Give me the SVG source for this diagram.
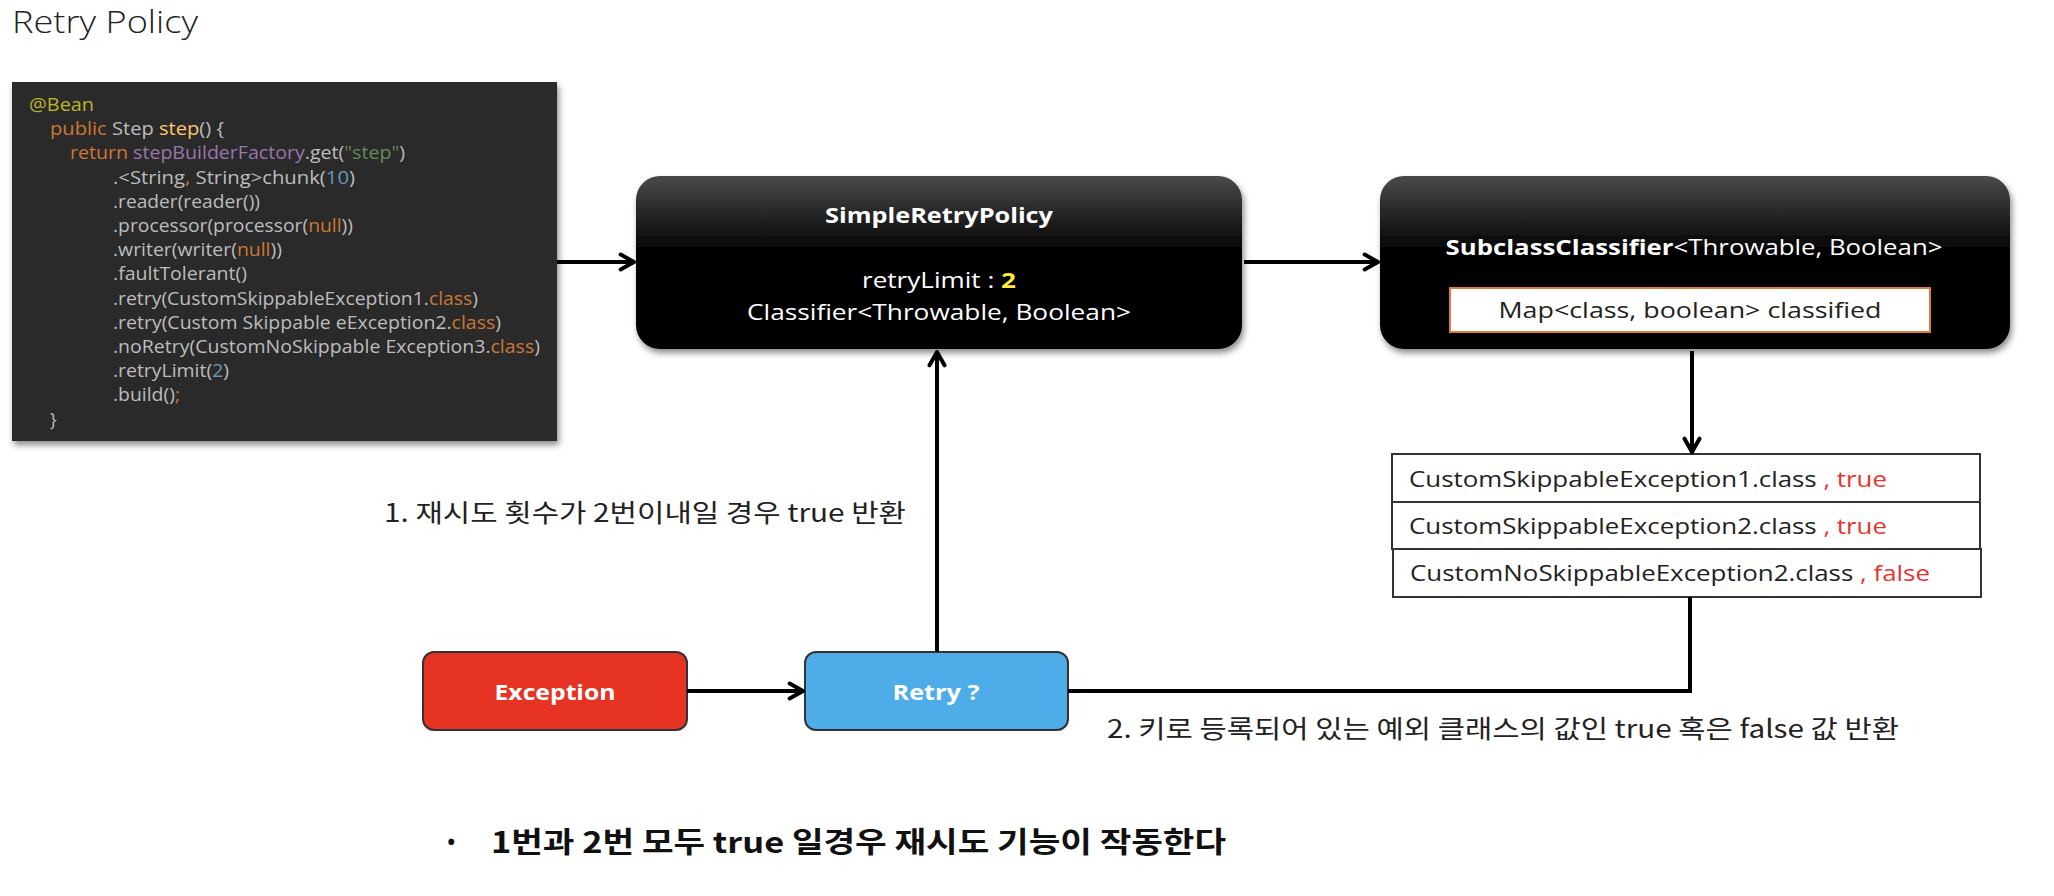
<svg xmlns="http://www.w3.org/2000/svg" width="2054" height="896" viewBox="0 0 2054 896">
<defs>
<style>
text{font-family:"Open Sans","Noto Sans CJK KR","Noto Sans",sans-serif;}
.ko{font-family:"Noto Sans CJK KR","Open Sans",sans-serif;}
.code{font-size:17.5px;fill:#bdbdbd;}
.kw{fill:#cc7832;}
.an{fill:#bbb529;}
.fn{fill:#ffc66d;}
.pu{fill:#9876aa;}
.st{fill:#6a8759;}
.nu{fill:#6897bb;}
.wt{fill:#ffffff;font-size:22px;}
.wb{fill:#ffffff;font-size:22px;font-weight:bold;}
.tb{fill:#222;font-size:22px;}
.red{fill:#e8342c;}
.lbl{fill:#222;font-size:25px;}
.line{stroke:#000;stroke-width:4;fill:none;}
.cell{fill:#fff;stroke:#333;stroke-width:2;}
</style>
<linearGradient id="blk" x1="0" y1="0" x2="0" y2="1">
<stop offset="0" stop-color="#4a4a4a"/>
<stop offset="0.45" stop-color="#000"/>
<stop offset="1" stop-color="#000"/>
</linearGradient>
<filter id="sh" x="-10%" y="-10%" width="120%" height="130%">
<feDropShadow dx="2" dy="4" stdDeviation="3" flood-color="#000" flood-opacity="0.45"/>
</filter>
<marker id="arr" viewBox="0 0 12 12" refX="11" refY="6" markerWidth="20" markerHeight="20" markerUnits="userSpaceOnUse" orient="auto">
<path d="M3,1.5 L11,6 L3,10.5" fill="none" stroke="#000" stroke-width="2.4" stroke-linecap="round" stroke-linejoin="round"/>
</marker>
</defs>
<rect width="2054" height="896" fill="#fff"/>

<text x="12" y="33" textLength="186" lengthAdjust="spacingAndGlyphs" style="font-size:31px;font-weight:300;fill:#222;">Retry Policy</text>

<g id="code">
<rect x="12" y="82" width="545" height="359" fill="#2b2b2b" filter="url(#sh)"/>
<text class="code" x="29" y="111" textLength="65" lengthAdjust="spacingAndGlyphs"><tspan class="an">@Bean</tspan></text>
<text class="code" x="50" y="135" textLength="174" lengthAdjust="spacingAndGlyphs"><tspan class="kw">public</tspan> Step <tspan class="fn">step</tspan>() {</text>
<text class="code" x="70" y="159" textLength="335" lengthAdjust="spacingAndGlyphs"><tspan class="kw">return</tspan> <tspan class="pu">stepBuilderFactory</tspan>.get(<tspan class="st">"step"</tspan>)</text>
<text class="code" x="113" y="184" textLength="242" lengthAdjust="spacingAndGlyphs">.&lt;String<tspan class="kw">,</tspan> String&gt;chunk(<tspan class="nu">10</tspan>)</text>
<text class="code" x="113" y="208" textLength="147" lengthAdjust="spacingAndGlyphs">.reader(reader())</text>
<text class="code" x="113" y="232" textLength="240" lengthAdjust="spacingAndGlyphs">.processor(processor(<tspan class="kw">null</tspan>))</text>
<text class="code" x="113" y="256" textLength="169" lengthAdjust="spacingAndGlyphs">.writer(writer(<tspan class="kw">null</tspan>))</text>
<text class="code" x="113" y="280" textLength="134" lengthAdjust="spacingAndGlyphs">.faultTolerant()</text>
<text class="code" x="113" y="305" textLength="365" lengthAdjust="spacingAndGlyphs">.retry(CustomSkippableException1.<tspan class="kw">class</tspan>)</text>
<text class="code" x="113" y="329" textLength="388" lengthAdjust="spacingAndGlyphs">.retry(Custom Skippable eException2.<tspan class="kw">class</tspan>)</text>
<text class="code" x="113" y="353" textLength="427" lengthAdjust="spacingAndGlyphs">.noRetry(CustomNoSkippable Exception3.<tspan class="kw">class</tspan>)</text>
<text class="code" x="113" y="377" textLength="116" lengthAdjust="spacingAndGlyphs">.retryLimit(<tspan class="nu">2</tspan>)</text>
<text class="code" x="113" y="401" textLength="67" lengthAdjust="spacingAndGlyphs">.build()<tspan class="kw">;</tspan></text>
<text class="code" x="50" y="426">}</text>
</g>

<g id="simpleRetryPolicy">
<rect x="636" y="176" width="606" height="173" rx="24" fill="url(#blk)" filter="url(#sh)"/>
<text class="wb" x="939" y="223" text-anchor="middle" textLength="228" lengthAdjust="spacingAndGlyphs">SimpleRetryPolicy</text>
<text class="wt" x="939" y="288" text-anchor="middle" textLength="154" lengthAdjust="spacingAndGlyphs">retryLimit : <tspan style="fill:#ffeb3b;font-weight:bold;">2</tspan></text>
<text class="wt" x="939" y="320" text-anchor="middle" textLength="384" lengthAdjust="spacingAndGlyphs">Classifier&lt;Throwable,  Boolean&gt;</text>
</g>

<g id="subclassClassifier">
<rect x="1380" y="176" width="630" height="173" rx="24" fill="url(#blk)" filter="url(#sh)"/>
<text class="wt" x="1694" y="255" text-anchor="middle" textLength="497" lengthAdjust="spacingAndGlyphs"><tspan style="font-weight:bold;">SubclassClassifier</tspan>&lt;Throwable, Boolean&gt;</text>
<rect x="1450" y="288" width="480" height="44" fill="#fff" stroke="#e07b39" stroke-width="2"/>
<text x="1690" y="318" text-anchor="middle" textLength="383" lengthAdjust="spacingAndGlyphs" style="font-size:22px;fill:#222;">Map&lt;class, boolean&gt; classified</text>
</g>

<g id="table">
<rect class="cell" x="1392" y="454" width="588" height="48"/>
<text class="tb" x="1409" y="487" textLength="478" lengthAdjust="spacingAndGlyphs">CustomSkippableException1.class <tspan class="red">, true</tspan></text>
<rect class="cell" x="1392" y="502" width="588" height="47"/>
<text class="tb" x="1409" y="534" textLength="478" lengthAdjust="spacingAndGlyphs">CustomSkippableException2.class <tspan class="red">, true</tspan></text>
<rect class="cell" x="1393" y="549" width="588" height="48"/>
<text class="tb" x="1410" y="581" textLength="520" lengthAdjust="spacingAndGlyphs">CustomNoSkippableException2.class <tspan class="red">, false</tspan></text>
</g>

<g id="exception">
<rect x="423" y="652" width="264" height="78" rx="11" fill="#e63323" stroke="#333" stroke-width="2"/>
<text class="wb" x="555" y="700" text-anchor="middle" textLength="121" lengthAdjust="spacingAndGlyphs">Exception</text>
</g>

<g id="retry">
<rect x="805" y="652" width="263" height="78" rx="11" fill="#4eade8" stroke="#333" stroke-width="2"/>
<text class="wb" x="936" y="700" text-anchor="middle" textLength="87" lengthAdjust="spacingAndGlyphs">Retry ?</text>
</g>

<g id="connectors">
<line class="line" x1="557" y1="262" x2="634" y2="262" marker-end="url(#arr)"/>
<line class="line" x1="1244" y1="262" x2="1378" y2="262" marker-end="url(#arr)"/>
<line class="line" x1="1692" y1="351" x2="1692" y2="452" marker-end="url(#arr)"/>
<line class="line" x1="687" y1="691" x2="803" y2="691" marker-end="url(#arr)"/>
<line class="line" x1="937" y1="652" x2="937" y2="352" marker-end="url(#arr)"/>
<polyline class="line" points="1068,691 1690,691 1690,597"/>
</g>

<text class="lbl ko" x="384" y="522" textLength="522" lengthAdjust="spacingAndGlyphs">1. 재시도 횟수가 2번이내일 경우 true 반환</text>
<text class="lbl ko" x="1107" y="738" textLength="792" lengthAdjust="spacingAndGlyphs">2. 키로 등록되어 있는 예외 클래스의 값인 true 혹은 false 값 반환</text>
<text x="446" y="852" style="font-size:28px;fill:#111;">•</text>
<text class="ko" x="491" y="853" textLength="735" lengthAdjust="spacingAndGlyphs" style="font-size:29px;font-weight:bold;fill:#111;">1번과 2번 모두 true 일경우 재시도 기능이 작동한다</text>
</svg>
